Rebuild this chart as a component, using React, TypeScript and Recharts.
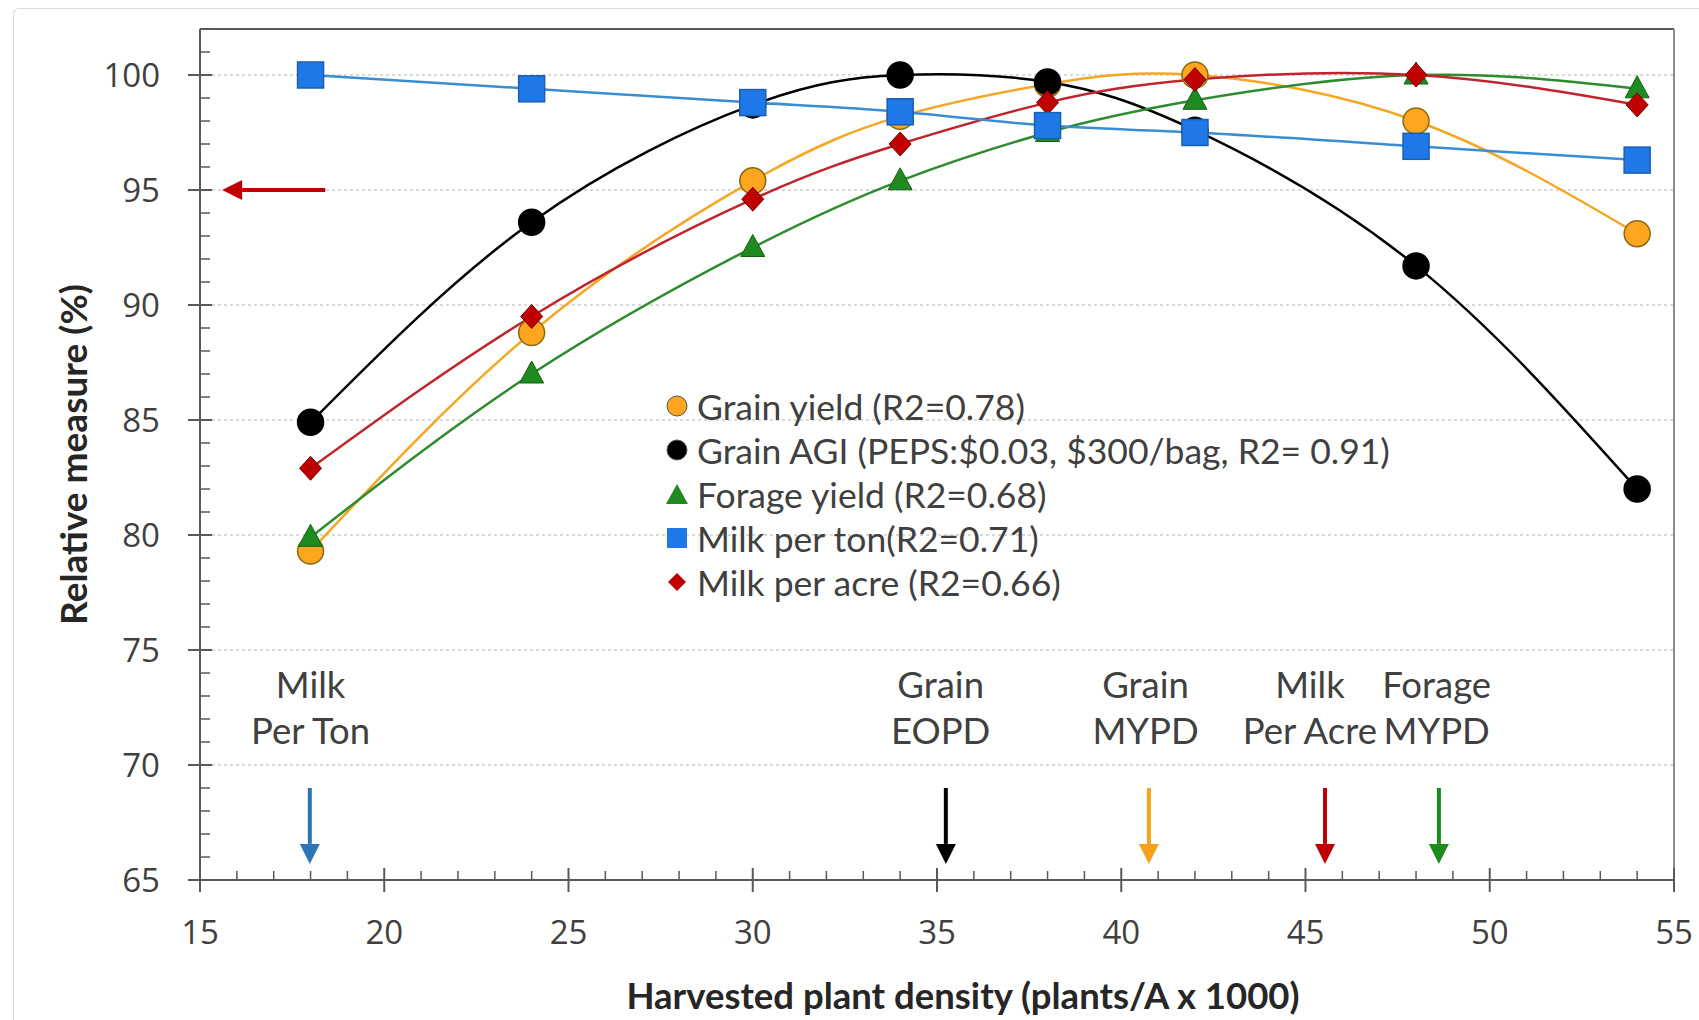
import React from 'react';
import { LineChart, Line, XAxis, YAxis, ReferenceLine, ReferenceDot, Legend } from 'recharts';

// plant density (plants/A x 1000)
const densities = [18, 24, 30, 34, 38, 42, 48, 54];

// relative measure (%)
const grainYield = [79.3, 88.8, 95.4, 98.2, 99.6, 100.0, 98.0, 93.1];
const grainAgi = [84.9, 93.6, 98.7, 100.0, 99.7, 97.6, 91.7, 82.0];
const forageYield = [79.9, 87.0, 92.5, 95.4, 97.5, 98.9, 100.0, 99.4];
const milkPerTon = [100.0, 99.4, 98.8, 98.4, 97.8, 97.5, 96.9, 96.3];
const milkPerAcre = [82.9, 89.5, 94.6, 97.0, 98.8, 99.8, 100.0, 98.7];

const xMajorTicks = [15, 20, 25, 30, 35, 40, 45, 50, 55];
const xAllTicks = [
  15, 16, 17, 18, 19, 20, 21, 22, 23, 24, 25, 26, 27, 28, 29, 30, 31, 32, 33, 34, 35,
  36, 37, 38, 39, 40, 41, 42, 43, 44, 45, 46, 47, 48, 49, 50, 51, 52, 53, 54, 55,
];
const yMajorTicks = [65, 70, 75, 80, 85, 90, 95, 100];
const yAllTicks = [
  65, 66, 67, 68, 69, 70, 71, 72, 73, 74, 75, 76, 77, 78, 79, 80, 81, 82, 83, 84, 85,
  86, 87, 88, 89, 90, 91, 92, 93, 94, 95, 96, 97, 98, 99, 100, 101, 102,
];
const yGridValues = [70, 75, 80, 85, 90, 95, 100];

// optimum density markers under the curves
const optimumLabels = [
  { top: 'Milk', bottom: 'Per Ton', labelX: 18, arrowX: 17.98, color: '#2E75B6' },
  { top: 'Grain', bottom: 'EOPD', labelX: 35.1, arrowX: 35.24, color: '#000000' },
  { top: 'Grain', bottom: 'MYPD', labelX: 40.66, arrowX: 40.75, color: '#F5A21B' },
  { top: 'Milk', bottom: 'Per Acre', labelX: 45.12, arrowX: 45.53, color: '#C00000' },
  { top: 'Forage', bottom: 'MYPD', labelX: 48.56, arrowX: 48.62, color: '#1E8A1E' },
];
const labelRowsY = [73.45, 71.45];
const arrowSpanY = [69.0, 65.7];
const leftArrow = { y: 95, from: 18.4, to: 15.6, color: '#C00000' };

const legendItems = [
  { label: 'Grain yield (R2=0.78)', marker: 'circle', color: '#FFA51F' },
  { label: 'Grain AGI (PEPS:$0.03, $300/bag, R2= 0.91)', marker: 'circle', color: '#000000' },
  { label: 'Forage yield (R2=0.68)', marker: 'triangle', color: '#1F8A1F' },
  { label: 'Milk per ton(R2=0.71)', marker: 'square', color: '#1E78E8' },
  { label: 'Milk per acre (R2=0.66)', marker: 'diamond', color: '#C00000' },
];

const data = densities.map((d, i) => ({
  density: d,
  grainYield: grainYield[i],
  grainAgi: grainAgi[i],
  forageYield: forageYield[i],
  milkPerTon: milkPerTon[i],
  milkPerAcre: milkPerAcre[i],
}));

const AXIS = '#595959';
const TICK_FONT = '"Open Sans", sans-serif';
const TEXT_FONT = 'Lato, "Open Sans", sans-serif';
const TEXT_COLOR = '#404040';

const XTick = (p: any) => {
  const { x, y, payload } = p;
  const v = payload.value;
  if (xMajorTicks.includes(v)) {
    return (
      <g>
        <line x1={x} y1={y - 12} x2={x} y2={y + 12} stroke={AXIS} strokeWidth={2} />
        <text x={x} y={y + 52} dy="0.35em" textAnchor="middle" fontFamily={TICK_FONT} fontSize={33} fill={TEXT_COLOR}>
          {v}
        </text>
      </g>
    );
  }
  return <line x1={x} y1={y} x2={x} y2={y - 9} stroke={AXIS} strokeWidth={1.5} />;
};

const YTick = (p: any) => {
  const { x, y, payload } = p;
  const v = payload.value;
  if (yMajorTicks.includes(v)) {
    return (
      <g>
        <line x1={x - 12} y1={y} x2={x + 12} y2={y} stroke={AXIS} strokeWidth={2} />
        <text x={x - 40} y={y} dy="0.35em" textAnchor="end" fontFamily={TICK_FONT} fontSize={33} fill={TEXT_COLOR}>
          {v}
        </text>
      </g>
    );
  }
  return <line x1={x} y1={y} x2={x + 10} y2={y} stroke={AXIS} strokeWidth={1.5} />;
};

const circleDot = (fill: string, stroke: string) => (p: any) => (
  <circle key={p.index} cx={p.cx} cy={p.cy} r={13} fill={fill} stroke={stroke} strokeWidth={1.5} />
);
const squareDot = (fill: string, stroke: string) => (p: any) => (
  <rect key={p.index} x={p.cx - 13} y={p.cy - 13} width={26} height={26} fill={fill} stroke={stroke} strokeWidth={1.5} />
);
const triangleDot = (fill: string, stroke: string) => (p: any) => (
  <polygon
    key={p.index}
    points={`${p.cx},${p.cy - 13} ${p.cx + 12},${p.cy + 9} ${p.cx - 12},${p.cy + 9}`}
    fill={fill}
    stroke={stroke}
    strokeWidth={1}
  />
);
const diamondDot = (fill: string, stroke: string) => (p: any) => (
  <polygon
    key={p.index}
    points={`${p.cx},${p.cy - 12} ${p.cx + 11},${p.cy} ${p.cx},${p.cy + 12} ${p.cx - 11},${p.cy}`}
    fill={fill}
    stroke={stroke}
    strokeWidth={1}
  />
);

const arrowShape = (color: string) => (p: any) => {
  const x1 = Number(p.x1);
  const y1 = Number(p.y1);
  const x2 = Number(p.x2);
  const y2 = Number(p.y2);
  const len = Math.hypot(x2 - x1, y2 - y1) || 1;
  const ux = (x2 - x1) / len;
  const uy = (y2 - y1) / len;
  const hl = 20;
  const hw = 10;
  const bx = x2 - ux * hl;
  const by = y2 - uy * hl;
  return (
    <g>
      <line x1={x1} y1={y1} x2={bx} y2={by} stroke={color} strokeWidth={4} />
      <polygon
        points={`${x2},${y2} ${bx - uy * hw},${by + ux * hw} ${bx + uy * hw},${by - ux * hw}`}
        fill={color}
      />
    </g>
  );
};

const textShape = (text: string) => (p: any) => (
  <text x={p.cx} y={p.cy} dy="0.35em" textAnchor="middle" fontFamily={TEXT_FONT} fontSize={36.5} fill={TEXT_COLOR}>
    {text}
  </text>
);

const LegendMarker = ({ marker, color }: { marker: string; color: string }) => {
  let shape;
  if (marker === 'circle') shape = <circle cx={13} cy={13} r={10} fill={color} stroke="#555" strokeWidth={1} />;
  else if (marker === 'square') shape = <rect x={3} y={3} width={20} height={20} fill={color} />;
  else if (marker === 'triangle') shape = <polygon points="13,3 24,23 2,23" fill={color} />;
  else shape = <polygon points="13,4 22,13 13,22 4,13" fill={color} />;
  return (
    <svg width={26} height={26} style={{ display: 'block' }}>
      {shape}
    </svg>
  );
};

const renderLegend = () => (
  <div>
    {legendItems.map((item) => (
      <div key={item.label} style={{ display: 'flex', alignItems: 'center', height: 44 }}>
        <LegendMarker marker={item.marker} color={item.color} />
        <span
          style={{
            marginLeft: 7,
            fontFamily: TEXT_FONT,
            fontSize: 35.5,
            color: TEXT_COLOR,
            whiteSpace: 'nowrap',
          }}
        >
          {item.label}
        </span>
      </div>
    ))}
  </div>
);

export default function App() {
  return (
    <div style={{ position: 'absolute', left: 8, top: 8, width: 1691, height: 1012 }}>
      <div
        style={{
          position: 'absolute',
          left: 5,
          top: 0,
          right: 0,
          bottom: 0,
          borderTop: '1px solid #dcdcdc',
          borderLeft: '1px solid #dcdcdc',
          borderTopLeftRadius: 6,
        }}
      />
      <LineChart width={1691} height={1012} data={data} margin={{ top: 21, right: 25, left: 0, bottom: 0 }}>
        {yGridValues.map((v) => (
          <ReferenceLine key={`g${v}`} y={v} stroke="#d9d9d9" strokeWidth={2} strokeDasharray="3 3" />
        ))}
        <ReferenceLine y={102} stroke={AXIS} strokeWidth={2} />
        <ReferenceLine x={55} stroke="#8c8c8c" strokeWidth={2} />
        <XAxis
          dataKey="density"
          type="number"
          domain={[15, 55]}
          ticks={xAllTicks}
          interval={0}
          height={140}
          tickSize={0}
          tickMargin={0}
          tickLine={false}
          tick={XTick}
          axisLine={{ stroke: AXIS, strokeWidth: 2 }}
          label={{
            value: 'Harvested plant density (plants/A x 1000)',
            position: 'insideBottom',
            offset: 11,
            dx: 26,
            style: { fontFamily: TEXT_FONT, fontSize: 36.5, fontWeight: 700, fill: '#262626' },
          }}
        />
        <YAxis
          type="number"
          domain={[65, 102]}
          ticks={yAllTicks}
          interval={0}
          width={192}
          tickSize={0}
          tickMargin={0}
          tickLine={false}
          tick={YTick}
          axisLine={{ stroke: AXIS, strokeWidth: 2 }}
          label={{
            value: 'Relative measure (%)',
            angle: -90,
            position: 'insideLeft',
            offset: 66,
            style: { fontFamily: TEXT_FONT, fontSize: 37, fontWeight: 700, fill: '#262626', textAnchor: 'middle' },
          }}
        />
        <Legend
          layout="vertical"
          align="center"
          verticalAlign="middle"
          content={renderLegend}
          wrapperStyle={{ left: 656, top: 376, width: 'auto', height: 'auto' }}
        />
        <Line
          name="Grain yield"
          dataKey="grainYield"
          type="natural"
          stroke="#F5A623"
          strokeWidth={2.5}
          dot={circleDot('#FFA51F', '#8a6a10')}
          isAnimationActive={false}
        />
        <Line
          name="Grain AGI"
          dataKey="grainAgi"
          type="natural"
          stroke="#000000"
          strokeWidth={2.5}
          dot={circleDot('#000000', '#000000')}
          isAnimationActive={false}
        />
        <Line
          name="Forage yield"
          dataKey="forageYield"
          type="natural"
          stroke="#2E8B2E"
          strokeWidth={2.5}
          dot={triangleDot('#1F8A1F', '#145f14')}
          isAnimationActive={false}
        />
        <Line
          name="Milk per acre"
          dataKey="milkPerAcre"
          type="natural"
          stroke="#C0242C"
          strokeWidth={2.5}
          dot={diamondDot('#C00000', '#7a0000')}
          isAnimationActive={false}
        />
        <Line
          name="Milk per ton"
          dataKey="milkPerTon"
          type="natural"
          stroke="#3A8DD0"
          strokeWidth={2.5}
          dot={squareDot('#1E78E8', '#1a5fb0')}
          isAnimationActive={false}
        />
        <ReferenceLine
          segment={[
            { x: leftArrow.from, y: leftArrow.y },
            { x: leftArrow.to, y: leftArrow.y },
          ]}
          shape={arrowShape(leftArrow.color)}
        />
        {optimumLabels.map((o) => (
          <ReferenceLine
            key={`a${o.arrowX}`}
            segment={[
              { x: o.arrowX, y: arrowSpanY[0] },
              { x: o.arrowX, y: arrowSpanY[1] },
            ]}
            shape={arrowShape(o.color)}
          />
        ))}
        {optimumLabels.map((o) => (
          <ReferenceDot key={`t${o.labelX}`} x={o.labelX} y={labelRowsY[0]} r={0} shape={textShape(o.top)} />
        ))}
        {optimumLabels.map((o) => (
          <ReferenceDot key={`b${o.labelX}`} x={o.labelX} y={labelRowsY[1]} r={0} shape={textShape(o.bottom)} />
        ))}
      </LineChart>
    </div>
  );
}
